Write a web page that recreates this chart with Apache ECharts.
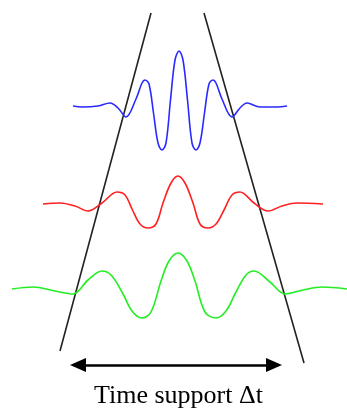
<!DOCTYPE html>
<html>
<head>
<meta charset="utf-8">
<script src="https://cdn.jsdelivr.net/npm/echarts@6/dist/echarts.min.js"></script>
<style>
  html, body { margin: 0; padding: 0; background: #fff; }
  #chart { width: 347px; height: 408px; }
</style>
</head>
<body>
<div id="chart"></div>
<script>
// wavelets as [x, y] in picture units (y grows downward)
const blueWave = [
  [73, 106], [82, 107], [98, 106], [110, 103], [118, 108], [126, 117],
  [136, 99], [142, 83], [145, 80], [149, 84], [153.5, 113], [158, 143],
  [162, 150], [166, 143], [170.5, 100], [175, 60], [179, 51], [183, 60],
  [187.5, 100], [192, 143], [196, 150], [200, 143], [204.5, 113], [209, 84],
  [213, 80], [216, 83], [222, 99], [232, 117], [240, 108], [247, 103],
  [260, 107], [277, 107], [287, 106]
];
const redWave = [
  [43, 204], [60, 203], [75, 206], [88, 211], [102, 203], [117, 192],
  [125, 195], [132.5, 210], [140, 224], [148, 228], [156, 224], [163, 203],
  [171, 183], [178, 176], [185, 183], [193, 203], [200, 224], [208, 228],
  [216, 224], [224, 210], [232, 195], [240, 192], [254, 203], [268, 211],
  [282, 206], [297, 203], [323, 204]
];
const greenWave = [
  [12, 289], [33, 287], [55, 291], [73, 294], [88, 280], [102, 271],
  [111, 275], [122, 292], [132, 311], [142, 318], [151, 312], [161, 281],
  [169, 261], [178, 253], [187, 261], [195, 281], [205, 312], [216, 318],
  [226, 311], [236, 292], [246, 275], [254, 271], [270, 282], [285, 294],
  [303, 290], [322, 287], [347, 289]
];
// the two bounding lines
const leftBound = [[151, 13], [60, 351]];
const rightBound = [[204, 13], [304, 363]];
// double arrow
const arrowSpan = [[78, 365], [274, 365]];
const caption = 'Time support Δt';

const chart = echarts.init(document.getElementById('chart'));

function wave(data, color) {
  return {
    type: 'line',
    data: data,
    smooth: 0.35,
    showSymbol: false,
    lineStyle: { color: color, width: 1.6 },
    silent: true
  };
}

function bound(data) {
  return {
    type: 'line',
    data: data,
    showSymbol: false,
    lineStyle: { color: '#222', width: 1.6 },
    silent: true
  };
}

chart.setOption({
  animation: false,
  backgroundColor: '#fff',
  title: {
    text: caption,
    left: 89,
    top: 378,
    textStyle: {
      fontFamily: 'Liberation Serif',
      fontSize: 26,
      fontWeight: 'normal',
      color: '#000'
    }
  },
  grid: { left: 0, right: 0, top: 0, bottom: 0 },
  xAxis: { type: 'value', min: 0, max: 347, show: false },
  yAxis: { type: 'value', min: 0, max: 408, inverse: true, show: false },
  series: [
    bound(leftBound),
    bound(rightBound),
    wave(blueWave, '#2a2aff'),
    wave(redWave, '#ff2020'),
    wave(greenWave, '#22ee22'),
    {
      type: 'line',
      data: [],
      silent: true,
      markLine: {
        silent: true,
        symbol: ['triangle', 'triangle'],
        symbolSize: [14, 16],
        label: { show: false },
        lineStyle: { color: '#000', width: 2.5, type: 'solid' },
        data: [[{ coord: arrowSpan[0] }, { coord: arrowSpan[1] }]]
      }
    }
  ]
});
</script>
</body>
</html>
